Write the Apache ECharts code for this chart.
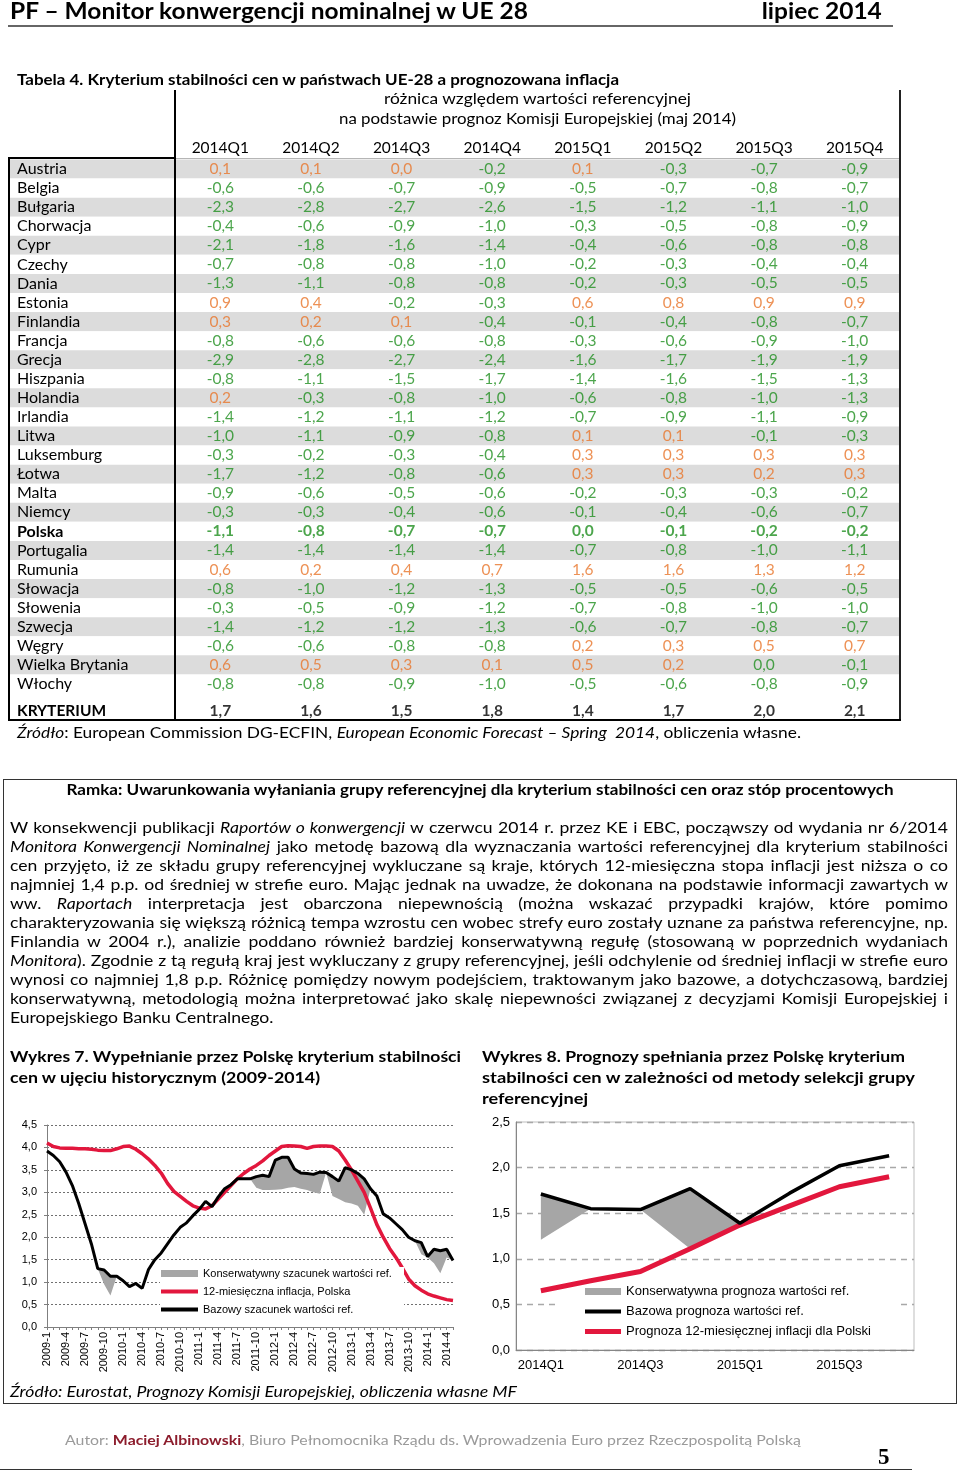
<!DOCTYPE html>
<html lang="pl">
<head>
<meta charset="utf-8">
<script src="https://cdn.jsdelivr.net/npm/echarts@6/dist/echarts.min.js"></script>
<style>
html,body{margin:0;padding:0;background:#fff;}
body{width:960px;height:1473px;position:relative;overflow:hidden;font-family:Lato,'DejaVu Sans',sans-serif;color:#000;}
#chart{position:absolute;left:0;top:0;width:960px;height:1473px;}
.t{position:absolute;white-space:nowrap;}
.ln{position:absolute;}
.pl{position:absolute;left:10px;width:938px;font-size:15.5px;line-height:19px;height:19px;text-align:justify;text-align-last:justify;transform-origin:left center;}
</style>
</head>
<body>
<div id="chart"></div>

<!-- header -->
<div class="t" data-w="518" style="left:10px;top:-3px;font-weight:bold;font-size:23px;line-height:27px;"><span>PF – Monitor konwergencji nominalnej w UE 28</span></div>
<div class="t" data-w="120" data-o="right" style="right:78px;top:-3px;font-weight:bold;font-size:23px;line-height:27px;"><span>lipiec 2014</span></div>
<div class="ln" style="left:8px;top:25px;width:885px;height:2px;background:#666;"></div>

<!-- table title -->
<div class="t" data-w="602" style="left:17px;top:71px;font-weight:bold;font-size:14.5px;line-height:18px;"><span>Tabela 4. Kryterium stabilności cen w państwach UE-28 a prognozowana inflacja</span></div>
<div class="t" data-w="307" data-o="center" style="left:175px;width:725px;text-align:center;top:89px;font-size:15px;line-height:18px;"><span>różnica względem wartości referencyjnej</span></div>
<div class="t" data-w="397" data-o="center" style="left:175px;width:725px;text-align:center;top:109px;font-size:15px;line-height:18px;"><span>na podstawie prognoz Komisji Europejskiej (maj 2014)</span></div>

<!-- table frame -->
<div class="ln" style="left:174px;top:90px;width:2px;height:631px;background:#000;"></div>
<div class="ln" style="left:899px;top:90px;width:2px;height:631px;background:#222;"></div>
<div class="ln" style="left:8px;top:157px;width:2px;height:564px;background:#000;"></div>
<div class="ln" style="left:8px;top:719px;width:893px;height:2px;background:#000;"></div>
<div class="ln" style="left:8px;top:157px;width:167px;height:2px;background:#000;"></div>
<div class="ln" style="left:176px;top:158px;width:723px;height:1px;background:#b5b5b5;"></div>

<div class="t" data-w="784" style="left:17px;top:723px;font-size:15px;line-height:18px;"><span><i>Źródło</i>: European Commission DG-ECFIN, <i>European Economic Forecast – Spring&nbsp; 2014</i>, obliczenia własne.</span></div>

<!-- box -->
<div class="ln" style="left:3px;top:779px;width:954px;height:625px;border:1px solid #333;box-sizing:border-box;"></div>
<div class="t" data-w="827" data-o="center" style="left:3px;width:954px;text-align:center;top:781px;font-weight:bold;font-size:14.5px;line-height:18px;"><span>Ramka: Uwarunkowania wyłaniania grupy referencyjnej dla kryterium stabilności cen oraz stóp procentowych</span></div>

<div class="pl" style="top:818px;">W konsekwencji publikacji <i>Raportów o konwergencji</i> w czerwcu 2014 r. przez KE i EBC, począwszy od wydania nr 6/2014</div>
<div class="pl" style="top:837px;"><i>Monitora Konwergencji Nominalnej</i> jako metodę bazową dla wyznaczania wartości referencyjnej dla kryterium stabilności</div>
<div class="pl" style="top:856px;">cen przyjęto, iż ze składu grupy referencyjnej wykluczane są kraje, których 12-miesięczna stopa inflacji jest niższa o co</div>
<div class="pl" style="top:875px;">najmniej 1,4 p.p. od średniej w strefie euro. Mając jednak na uwadze, że dokonana na podstawie informacji zawartych w</div>
<div class="pl" style="top:894px;">ww. <i>Raportach</i> interpretacja jest obarczona niepewnością (można wskazać przypadki krajów, które pomimo</div>
<div class="pl" id="refline" style="top:913px;">charakteryzowania się większą różnicą tempa wzrostu cen wobec strefy euro zostały uznane za państwa referencyjne, np.</div>
<div class="pl" style="top:932px;">Finlandia w 2004 r.), analizie poddano również bardziej konserwatywną regułę (stosowaną w poprzednich wydaniach</div>
<div class="pl" style="top:951px;"><i>Monitora</i>). Zgodnie z tą regułą kraj jest wykluczany z grupy referencyjnej, jeśli odchylenie od średniej inflacji w strefie euro</div>
<div class="pl" style="top:970px;">wynosi co najmniej 1,8 p.p. Różnicę pomiędzy nowym podejściem, traktowanym jako bazowe, a dotychczasową, bardziej</div>
<div class="pl" style="top:989px;">konserwatywną, metodologią można interpretować jako skalę niepewności związanej z decyzjami Komisji Europejskiej i</div>
<div class="pl" style="top:1008px;text-align-last:left;">Europejskiego Banku Centralnego.</div>

<!-- chart titles -->
<div class="t" data-w="451" style="left:10px;top:1046px;font-weight:bold;font-size:15px;line-height:21px;"><span>Wykres 7. Wypełnianie przez Polskę kryterium stabilności</span></div>
<div class="t" data-w="310" style="left:10px;top:1067px;font-weight:bold;font-size:15px;line-height:21px;"><span>cen w ujęciu historycznym (2009-2014)</span></div>
<div class="t" data-w="423" style="left:482px;top:1046px;font-weight:bold;font-size:15px;line-height:21px;"><span>Wykres 8. Prognozy spełniania przez Polskę kryterium</span></div>
<div class="t" data-w="433" style="left:482px;top:1067px;font-weight:bold;font-size:15px;line-height:21px;"><span>stabilności cen w zależności od metody selekcji grupy</span></div>
<div class="t" data-w="106" style="left:482px;top:1088px;font-weight:bold;font-size:15px;line-height:21px;"><span>referencyjnej</span></div>

<div class="t" data-w="507" style="left:10px;top:1382px;font-style:italic;font-size:15px;line-height:19px;"><span>Źródło: Eurostat, Prognozy Komisji Europejskiej, obliczenia własne MF</span></div>

<!-- footer -->
<div class="t" data-w="736" style="left:65px;top:1431px;font-size:14px;line-height:18px;color:#9a9a9a;"><span>Autor: <b style="color:#8c1c2c;">Maciej Albinowski</b>, Biuro Pełnomocnika Rządu ds. Wprowadzenia Euro przez Rzeczpospolitą Polską</span></div>
<div class="t" style="left:878px;top:1444px;font-family:'Liberation Serif','DejaVu Serif',serif;font-weight:bold;font-size:23px;line-height:26px;">5</div>
<div class="ln" style="left:0px;top:1469px;width:912px;height:1px;background:#333;"></div>

<script>
// ---------- DATA ----------
const QUARTERS = ['2014Q1','2014Q2','2014Q3','2014Q4','2015Q1','2015Q2','2015Q3','2015Q4'];
const COUNTRIES = ['Austria','Belgia','Bułgaria','Chorwacja','Cypr','Czechy','Dania','Estonia','Finlandia','Francja','Grecja','Hiszpania','Holandia','Irlandia','Litwa','Luksemburg','Łotwa','Malta','Niemcy','Polska','Portugalia','Rumunia','Słowacja','Słowenia','Szwecja','Węgry','Wielka Brytania','Włochy'];
// difference vs reference value; -0 marks a zero printed as below reference
const DIFF_AUSTRIA   = [0.1, 0.1, 0.0, -0.2, 0.1, -0.3, -0.7, -0.9];
const DIFF_BELGIA    = [-0.6, -0.6, -0.7, -0.9, -0.5, -0.7, -0.8, -0.7];
const DIFF_BULGARIA  = [-2.3, -2.8, -2.7, -2.6, -1.5, -1.2, -1.1, -1.0];
const DIFF_CHORWACJA = [-0.4, -0.6, -0.9, -1.0, -0.3, -0.5, -0.8, -0.9];
const DIFF_CYPR      = [-2.1, -1.8, -1.6, -1.4, -0.4, -0.6, -0.8, -0.8];
const DIFF_CZECHY    = [-0.7, -0.8, -0.8, -1.0, -0.2, -0.3, -0.4, -0.4];
const DIFF_DANIA     = [-1.3, -1.1, -0.8, -0.8, -0.2, -0.3, -0.5, -0.5];
const DIFF_ESTONIA   = [0.9, 0.4, -0.2, -0.3, 0.6, 0.8, 0.9, 0.9];
const DIFF_FINLANDIA = [0.3, 0.2, 0.1, -0.4, -0.1, -0.4, -0.8, -0.7];
const DIFF_FRANCJA   = [-0.8, -0.6, -0.6, -0.8, -0.3, -0.6, -0.9, -1.0];
const DIFF_GRECJA    = [-2.9, -2.8, -2.7, -2.4, -1.6, -1.7, -1.9, -1.9];
const DIFF_HISZPANIA = [-0.8, -1.1, -1.5, -1.7, -1.4, -1.6, -1.5, -1.3];
const DIFF_HOLANDIA  = [0.2, -0.3, -0.8, -1.0, -0.6, -0.8, -1.0, -1.3];
const DIFF_IRLANDIA  = [-1.4, -1.2, -1.1, -1.2, -0.7, -0.9, -1.1, -0.9];
const DIFF_LITWA     = [-1.0, -1.1, -0.9, -0.8, 0.1, 0.1, -0.1, -0.3];
const DIFF_LUKSEMBURG= [-0.3, -0.2, -0.3, -0.4, 0.3, 0.3, 0.3, 0.3];
const DIFF_LOTWA     = [-1.7, -1.2, -0.8, -0.6, 0.3, 0.3, 0.2, 0.3];
const DIFF_MALTA     = [-0.9, -0.6, -0.5, -0.6, -0.2, -0.3, -0.3, -0.2];
const DIFF_NIEMCY    = [-0.3, -0.3, -0.4, -0.6, -0.1, -0.4, -0.6, -0.7];
const DIFF_POLSKA    = [-1.1, -0.8, -0.7, -0.7, -0, -0.1, -0.2, -0.2];
const DIFF_PORTUGALIA= [-1.4, -1.4, -1.4, -1.4, -0.7, -0.8, -1.0, -1.1];
const DIFF_RUMUNIA   = [0.6, 0.2, 0.4, 0.7, 1.6, 1.6, 1.3, 1.2];
const DIFF_SLOWACJA  = [-0.8, -1.0, -1.2, -1.3, -0.5, -0.5, -0.6, -0.5];
const DIFF_SLOWENIA  = [-0.3, -0.5, -0.9, -1.2, -0.7, -0.8, -1.0, -1.0];
const DIFF_SZWECJA   = [-1.4, -1.2, -1.2, -1.3, -0.6, -0.7, -0.8, -0.7];
const DIFF_WEGRY     = [-0.6, -0.6, -0.8, -0.8, 0.2, 0.3, 0.5, 0.7];
const DIFF_WB        = [0.6, 0.5, 0.3, 0.1, 0.5, 0.2, -0, -0.1];
const DIFF_WLOCHY    = [-0.8, -0.8, -0.9, -1.0, -0.5, -0.6, -0.8, -0.9];
const DIFF_ROWS = [DIFF_AUSTRIA, DIFF_BELGIA, DIFF_BULGARIA, DIFF_CHORWACJA, DIFF_CYPR, DIFF_CZECHY, DIFF_DANIA, DIFF_ESTONIA, DIFF_FINLANDIA, DIFF_FRANCJA, DIFF_GRECJA, DIFF_HISZPANIA, DIFF_HOLANDIA, DIFF_IRLANDIA, DIFF_LITWA, DIFF_LUKSEMBURG, DIFF_LOTWA, DIFF_MALTA, DIFF_NIEMCY, DIFF_POLSKA, DIFF_PORTUGALIA, DIFF_RUMUNIA, DIFF_SLOWACJA, DIFF_SLOWENIA, DIFF_SZWECJA, DIFF_WEGRY, DIFF_WB, DIFF_WLOCHY];
const CRITERION_LABEL = 'KRYTERIUM';
const CRITERION = [1.7, 1.6, 1.5, 1.8, 1.4, 1.7, 2.0, 2.1];

// Wykres 7 (monthly 2009-1 .. 2014-5)
const MONTHS = ['2009-1','2009-2','2009-3','2009-4','2009-5','2009-6','2009-7','2009-8','2009-9','2009-10','2009-11','2009-12',
 '2010-1','2010-2','2010-3','2010-4','2010-5','2010-6','2010-7','2010-8','2010-9','2010-10','2010-11','2010-12',
 '2011-1','2011-2','2011-3','2011-4','2011-5','2011-6','2011-7','2011-8','2011-9','2011-10','2011-11','2011-12',
 '2012-1','2012-2','2012-3','2012-4','2012-5','2012-6','2012-7','2012-8','2012-9','2012-10','2012-11','2012-12',
 '2013-1','2013-2','2013-3','2013-4','2013-5','2013-6','2013-7','2013-8','2013-9','2013-10','2013-11','2013-12',
 '2014-1','2014-2','2014-3','2014-4','2014-5'];
const INFL_PL = [4.10,4.02,3.99,3.98,3.98,3.97,3.97,3.96,3.94,3.93,3.93,3.97,
 4.02,4.03,3.96,3.86,3.74,3.60,3.43,3.20,3.02,2.91,2.80,2.70,
 2.65,2.63,2.70,2.85,3.00,3.15,3.30,3.42,3.52,3.60,3.70,3.82,
 3.92,4.02,4.04,4.03,4.02,3.98,4.02,4.03,4.03,4.02,3.92,3.72,
 3.50,3.25,3.00,2.65,2.28,2.00,1.75,1.55,1.32,1.07,0.92,0.82,
 0.74,0.69,0.65,0.61,0.59];
const REF_BASE = [3.92,3.82,3.68,3.45,3.15,2.75,2.30,1.85,1.30,1.27,1.13,1.13,
 1.03,0.90,0.97,0.86,1.28,1.50,1.65,1.85,2.05,2.22,2.32,2.48,
 2.62,2.80,2.68,2.90,3.08,3.17,3.30,3.30,3.30,3.35,3.38,3.35,
 3.72,3.78,3.78,3.52,3.43,3.42,3.40,3.45,3.44,3.35,3.25,3.55,
 3.50,3.42,3.30,3.08,2.92,2.52,2.43,2.30,2.17,2.00,1.92,1.88,
 1.57,1.73,1.70,1.73,1.48];
const REF_CONS = [3.92,3.82,3.68,3.45,3.15,2.75,2.30,1.85,1.30,0.95,0.70,1.13,
 1.03,0.90,0.97,0.86,1.28,1.50,1.65,1.85,2.05,2.22,2.32,2.48,
 2.62,2.80,2.68,2.90,3.08,3.17,3.30,3.30,3.30,3.10,3.05,3.05,
 3.06,3.07,3.10,3.12,3.08,3.05,3.00,2.97,3.44,2.92,2.85,2.78,
 2.75,2.70,2.50,3.08,2.92,2.52,2.43,2.30,2.17,2.00,1.92,1.62,
 1.55,1.42,1.20,1.55,1.48];

// Wykres 8 (quarterly forecasts)
const FC_BASE = [1.71, 1.55, 1.54, 1.77, 1.39, 1.72, 2.02, 2.13];
const FC_CONS = [1.21, 1.55, 1.54, 1.11, 1.39, 1.72, 2.02, 2.13];
const FC_INFL = [0.65, 0.76, 0.86, 1.11, 1.37, 1.58, 1.79, 1.90];

const LEG7 = ['Konserwatywny szacunek wartości ref.', '12-miesięczna inflacja, Polska', 'Bazowy szacunek wartości ref.'];
const LEG8 = ['Konserwatywna prognoza wartości ref.', 'Bazowa prognoza wartości ref.', 'Prognoza 12-miesięcznej inflacji dla Polski'];

// ---------- STYLE ----------
const FONT = "Lato, 'DejaVu Sans', sans-serif";
const CFONT = "'Liberation Sans', Arial, sans-serif";
const ORANGE = '#e8752b', GREEN = '#1f8f1f';
const BANDS = ['#dcdcdc', '#ffffff'];
const RED = '#e2173d', GRAY = '#a6a6a6';
const HIGHLIGHT = 'Polska';
const fmt = v => Number(v).toFixed(1).replace('.', ',');

// ---------- BUILD ----------
const cellData = [];
DIFF_ROWS.forEach((row, r) => row.forEach((v, c) => {
  const above = v > 0 || Object.is(v, 0);
  cellData.push({ value: [c, r, v], label: { color: above ? ORANGE : GREEN, fontWeight: COUNTRIES[r] === HIGHLIGHT ? 'bold' : 'normal' } });
}));
const critData = CRITERION.map((v, c) => [c, 0, v]);
const gap = (a, b) => a.map((v, i) => Math.round((v - b[i]) * 1000) / 1000);

const chart = echarts.init(document.getElementById('chart'), null, { renderer: 'canvas' });

const legendBase = (size) => ({ orient: 'vertical', selectedMode: false, padding: 0, z: 11, itemGap: 0,
  textStyle: { fontSize: size, fontFamily: CFONT, color: '#000' } });

chart.setOption({
  animation: false,
  grid: [
    { left: 8, top: 159.5, width: 167, height: 534 },
    { left: 175, top: 159.5, width: 725, height: 534 },
    { left: 175, top: 701.5, width: 725, height: 19 },
    { left: 47, top: 1125, width: 406, height: 202 },
    { left: 516, top: 1122, width: 398, height: 228, show: true, borderColor: '#bdbdbd', borderWidth: 1, backgroundColor: 'rgba(0,0,0,0)' }
  ],
  xAxis: [
    { gridIndex: 0, type: 'category', data: [''], show: false },
    { gridIndex: 1, type: 'category', data: QUARTERS, position: 'top', axisLine: { show: false }, axisTick: { show: false },
      axisLabel: { interval: 0, fontSize: 15.5, color: '#000', fontFamily: FONT, margin: 4 } },
    { gridIndex: 2, type: 'category', data: QUARTERS, show: false },
    { gridIndex: 3, type: 'category', data: MONTHS, boundaryGap: false,
      axisLine: { lineStyle: { color: '#7f7f7f', width: 1 } },
      axisTick: { interval: 0, length: 3, lineStyle: { color: '#7f7f7f' } },
      axisLabel: { rotate: 90, interval: 2, fontSize: 11, color: '#000', fontFamily: CFONT, margin: 5 } },
    { gridIndex: 4, type: 'category', data: QUARTERS, boundaryGap: true,
      axisLine: { lineStyle: { color: '#868686' } },
      axisTick: { interval: 0, length: 5, lineStyle: { color: '#868686' } },
      axisLabel: { interval: 1, fontSize: 13, color: '#000', fontFamily: CFONT, margin: 9 } }
  ],
  yAxis: [
    { gridIndex: 0, type: 'category', data: COUNTRIES, inverse: true, axisLine: { show: false }, axisTick: { show: false },
      axisLabel: { inside: true, margin: 9, interval: 0, fontSize: 16, color: '#000', fontFamily: FONT,
        formatter: v => v === HIGHLIGHT ? '{b|' + v + '}' : v,
        rich: { b: { fontWeight: 'bold', fontSize: 16, fontFamily: FONT, color: '#000' } } },
      splitArea: { show: true, interval: 0, areaStyle: { color: BANDS } }, splitLine: { show: false } },
    { gridIndex: 1, type: 'category', data: COUNTRIES, inverse: true, axisLine: { show: false }, axisTick: { show: false },
      axisLabel: { show: false }, splitArea: { show: true, interval: 0, areaStyle: { color: BANDS } }, splitLine: { show: false } },
    { gridIndex: 2, type: 'category', data: [CRITERION_LABEL], axisLine: { show: false }, axisTick: { show: false },
      axisLabel: { align: 'left', margin: 158, fontSize: 15.5, fontWeight: 'bold', color: '#000', fontFamily: FONT } },
    { gridIndex: 3, type: 'value', min: 0, max: 4.5, interval: 0.5,
      axisLine: { show: true, lineStyle: { color: '#7f7f7f' } }, axisTick: { show: true, length: 3, lineStyle: { color: '#7f7f7f' } },
      axisLabel: { formatter: fmt, fontSize: 11, color: '#000', fontFamily: CFONT, margin: 10 },
      splitLine: { lineStyle: { type: [2, 2], color: '#707070', width: 1 } } },
    { gridIndex: 4, type: 'value', min: 0, max: 2.5, interval: 0.5,
      axisLine: { show: true, lineStyle: { color: '#868686' } }, axisTick: { show: false },
      axisLabel: { formatter: fmt, fontSize: 13, color: '#000', fontFamily: CFONT, margin: 6 },
      splitLine: { lineStyle: { type: [6, 5], color: '#a8a8a8', width: 1.3 } } }
  ],
  legend: [
    Object.assign(legendBase(11), { left: 161, top: 1268, itemWidth: 37, itemHeight: 7, data: [{ name: LEG7[0], icon: 'rect' }] }),
    Object.assign(legendBase(11), { left: 161, top: 1286, itemWidth: 37, itemHeight: 4, data: [{ name: LEG7[1], icon: 'rect' }] }),
    Object.assign(legendBase(11), { left: 161, top: 1304, itemWidth: 37, itemHeight: 4, data: [{ name: LEG7[2], icon: 'rect' }] }),
    Object.assign(legendBase(13), { left: 585, top: 1285, itemWidth: 36, itemHeight: 7, data: [{ name: LEG8[0], icon: 'rect' }] }),
    Object.assign(legendBase(13), { left: 585, top: 1305, itemWidth: 36, itemHeight: 4, data: [{ name: LEG8[1], icon: 'rect' }] }),
    Object.assign(legendBase(13), { left: 585, top: 1325, itemWidth: 36, itemHeight: 5, data: [{ name: LEG8[2], icon: 'rect' }] })
  ],
  graphic: [
    { type: 'rect', z: 10, silent: true, shape: { x: 160, y: 1267, width: 244, height: 54 }, style: { fill: '#fff' } },
    { type: 'rect', z: 1, silent: true, shape: { x: 558, y: 1283, width: 340, height: 60 }, style: { fill: '#fff' } }
  ],
  series: [
    { type: 'scatter', xAxisIndex: 1, yAxisIndex: 1, data: cellData, symbolSize: 1, silent: true,
      itemStyle: { color: 'rgba(0,0,0,0)' },
      label: { show: true, position: 'inside', fontSize: 15.5, fontFamily: FONT, formatter: p => fmt(p.value[2]) } },
    { type: 'scatter', xAxisIndex: 2, yAxisIndex: 2, data: critData, symbolSize: 1, silent: true,
      itemStyle: { color: 'rgba(0,0,0,0)' },
      label: { show: true, position: 'inside', fontSize: 15.5, fontWeight: 'bold', color: '#000', fontFamily: FONT, formatter: p => fmt(p.value[2]) } },

    { name: '_cons7', type: 'line', xAxisIndex: 3, yAxisIndex: 3, stack: 'ref7', data: REF_CONS, symbol: 'none', silent: true,
      lineStyle: { width: 0 }, itemStyle: { color: GRAY } },
    { name: LEG7[0], type: 'line', xAxisIndex: 3, yAxisIndex: 3, stack: 'ref7', data: gap(REF_BASE, REF_CONS), symbol: 'none', silent: true,
      lineStyle: { width: 0 }, itemStyle: { color: GRAY }, areaStyle: { color: GRAY, opacity: 1 } },
    { name: LEG7[1], type: 'line', xAxisIndex: 3, yAxisIndex: 3, data: INFL_PL, symbol: 'none', silent: true, z: 3,
      lineStyle: { width: 3.5, color: RED }, itemStyle: { color: RED } },
    { name: LEG7[2], type: 'line', xAxisIndex: 3, yAxisIndex: 3, data: REF_BASE, symbol: 'none', silent: true, z: 4,
      lineStyle: { width: 3, color: '#000' }, itemStyle: { color: '#000' } },

    { name: '_cons8', type: 'line', xAxisIndex: 4, yAxisIndex: 4, stack: 'ref8', data: FC_CONS, symbol: 'none', silent: true,
      lineStyle: { width: 0 }, itemStyle: { color: GRAY } },
    { name: LEG8[0], type: 'line', xAxisIndex: 4, yAxisIndex: 4, stack: 'ref8', data: gap(FC_BASE, FC_CONS), symbol: 'none', silent: true,
      lineStyle: { width: 0 }, itemStyle: { color: GRAY }, areaStyle: { color: GRAY, opacity: 1 } },
    { name: LEG8[2], type: 'line', xAxisIndex: 4, yAxisIndex: 4, data: FC_INFL, symbol: 'none', silent: true, z: 3,
      lineStyle: { width: 5, color: RED }, itemStyle: { color: RED } },
    { name: LEG8[1], type: 'line', xAxisIndex: 4, yAxisIndex: 4, data: FC_BASE, symbol: 'none', silent: true, z: 4,
      lineStyle: { width: 3.5, color: '#000' }, itemStyle: { color: '#000' } }
  ]
});

// ---------- text width matching (horizontal stretch of the page font) ----------
document.querySelectorAll('[data-w]').forEach(el => {
  const span = el.querySelector('span');
  const w = span.getBoundingClientRect().width;
  if (!w) return;
  const s = parseFloat(el.dataset.w) / w;
  el.style.transformOrigin = (el.dataset.o || 'left') + ' center';
  el.style.transform = 'scaleX(' + s.toFixed(4) + ')';
});

// paragraph: one common stretch, derived from the (nearly unjustified) reference line
(function () {
  const probe = document.createElement('span');
  probe.style.cssText = 'position:absolute;visibility:hidden;white-space:nowrap;font-size:15.5px;';
  document.body.appendChild(probe);
  const natural = el => { probe.innerHTML = el.innerHTML; return probe.getBoundingClientRect().width; };
  const lines = Array.from(document.querySelectorAll('.pl'));
  const s = 930 / natural(document.getElementById('refline'));
  lines.forEach(el => {
    const w = natural(el);
    let sc = s;
    if (w * sc > 938) sc = 938 / (w + 1);
    el.style.width = (938 / sc) + 'px';
    el.style.transform = 'scaleX(' + sc.toFixed(4) + ')';
  });
  probe.remove();
})();
</script>
</body>
</html>
